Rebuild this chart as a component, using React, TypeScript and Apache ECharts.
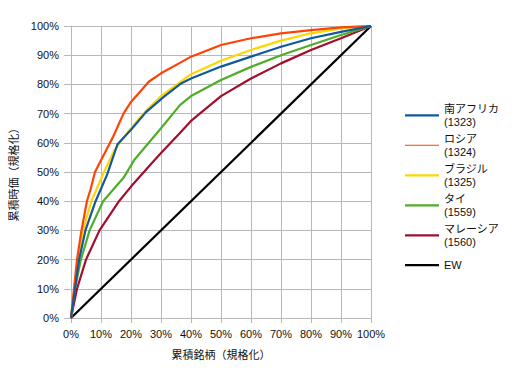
import React, { useEffect, useRef } from "react";
import * as echarts from "echarts";

const seriesNames = ["南アフリカ\n(1323)", "ロシア\n(1324)", "ブラジル\n(1325)", "タイ\n(1559)", "マレーシア\n(1560)", "EW"];
const seriesColors = ["#11599c", "#ff4306", "#ffd600", "#4fad28", "#a10e2e", "#000000"];

const southAfrica = [[0,0],[2.7,20],[4.8,30],[8.2,40],[12,49],[15.5,59.5],[20,64.5],[25,70.5],[31,75.8],[36.5,80.2],[40,82],[50,86.1],[60,89.5],[70,92.9],[80,95.8],[90,98],[100,100]];
const russia = [[0,0],[2,20],[3.5,30],[5.3,40],[6.5,44],[8,50],[10,54],[14,62],[17.5,70],[20,74],[26,81],[30,83.8],[36,87.2],[40,89.5],[50,93.5],[60,95.8],[70,97.5],[80,98.6],[90,99.5],[100,100]];
const brazil = [[0,0],[2.2,20],[4,30],[6.8,40],[11,50],[14.5,57.5],[17,61],[20,65],[25,71],[30,76],[40,83.5],[50,88.1],[60,91.8],[70,95],[80,97.5],[90,99.2],[100,100]];
const thailand = [[0,0],[1.3,10],[3.3,20],[6.2,30],[10.7,40],[17.5,48],[21,54],[30,65],[36.4,73],[40,76],[50,81.5],[60,86],[70,90],[80,93.5],[90,96.9],[100,100]];
const malaysia = [[0,0],[2,10],[5,20],[9.5,30],[16,40],[20,45],[26,52],[30,56.5],[36,63],[40,67.5],[50,76],[60,82],[70,87.2],[80,91.8],[90,95.8],[100,100]];
const ew = [[0,0],[100,100]];
const seriesData = [southAfrica, russia, brazil, thailand, malaysia, ew];

const xTitle = "累積銘柄（規格化）";
const yTitle = "累積時価（規格化）";

const FONT = "'Liberation Sans', 'Noto Sans CJK JP', sans-serif";

export default function App() {
  const ref = useRef<HTMLDivElement>(null);
  useEffect(() => {
    document.body.style.margin = "0";
    const chart = echarts.init(ref.current!, null, { renderer: "svg" });
    const axisCommon = {
      type: "value" as const,
      min: 0,
      max: 100,
      interval: 10,
      nameLocation: "middle" as const,
      nameTextStyle: { fontSize: 11, color: "#111", fontFamily: FONT },
      axisLine: { show: true, lineStyle: { color: "#b8b8b8", width: 1 } },
      axisTick: { show: true, lineStyle: { color: "#b8b8b8", width: 1 } },
      splitLine: { show: true, lineStyle: { color: "#b8b8b8", width: 1 } },
      axisLabel: { formatter: "{value}%", fontSize: 11, color: "#111", fontFamily: FONT },
    };
    chart.setOption({
      animation: false,
      backgroundColor: "#fff",
      textStyle: { fontFamily: FONT },
      grid: { left: 71, top: 26, width: 300, height: 292 },
      xAxis: {
        ...axisCommon,
        name: xTitle,
        nameGap: 31,
        axisTick: { ...axisCommon.axisTick, length: 5 },
        axisLabel: { ...axisCommon.axisLabel, margin: 10 },
      },
      yAxis: {
        ...axisCommon,
        name: yTitle,
        nameGap: 48,
        axisTick: { ...axisCommon.axisTick, length: 7 },
        axisLabel: { ...axisCommon.axisLabel, margin: 12 },
      },
      legend: {
        orient: "vertical",
        left: 405,
        top: 95.5,
        padding: 0,
        icon: "rect",
        itemWidth: 34,
        itemHeight: 2.2,
        itemGap: -9.6,
        selectedMode: false,
        textStyle: { fontSize: 11, color: "#111", fontFamily: FONT, lineHeight: 13.3, padding: [13, 0, 0, 0] },
        data: seriesNames.map((n, i) => {
          const item: any = { name: n };
          if (i === 1) item.icon = "path://M0,0h34v1h-34z";
          if (i === 5) item.textStyle = { padding: [13, 0, 13, 0] };
          return item;
        }),
      },
      series: seriesData.map((d, i) => ({
        type: "line",
        name: seriesNames[i],
        data: d,
        symbol: "none",
        showSymbol: false,
        z: i === 5 ? 1 : 2 + (5 - i),
        lineStyle: { color: seriesColors[i], width: 2.2 },
        itemStyle: { color: seriesColors[i] },
      })),
    });
    return () => chart.dispose();
  }, []);
  return <div ref={ref} style={{ position: "fixed", left: 0, top: 0, width: 520, height: 377 }} />;
}
